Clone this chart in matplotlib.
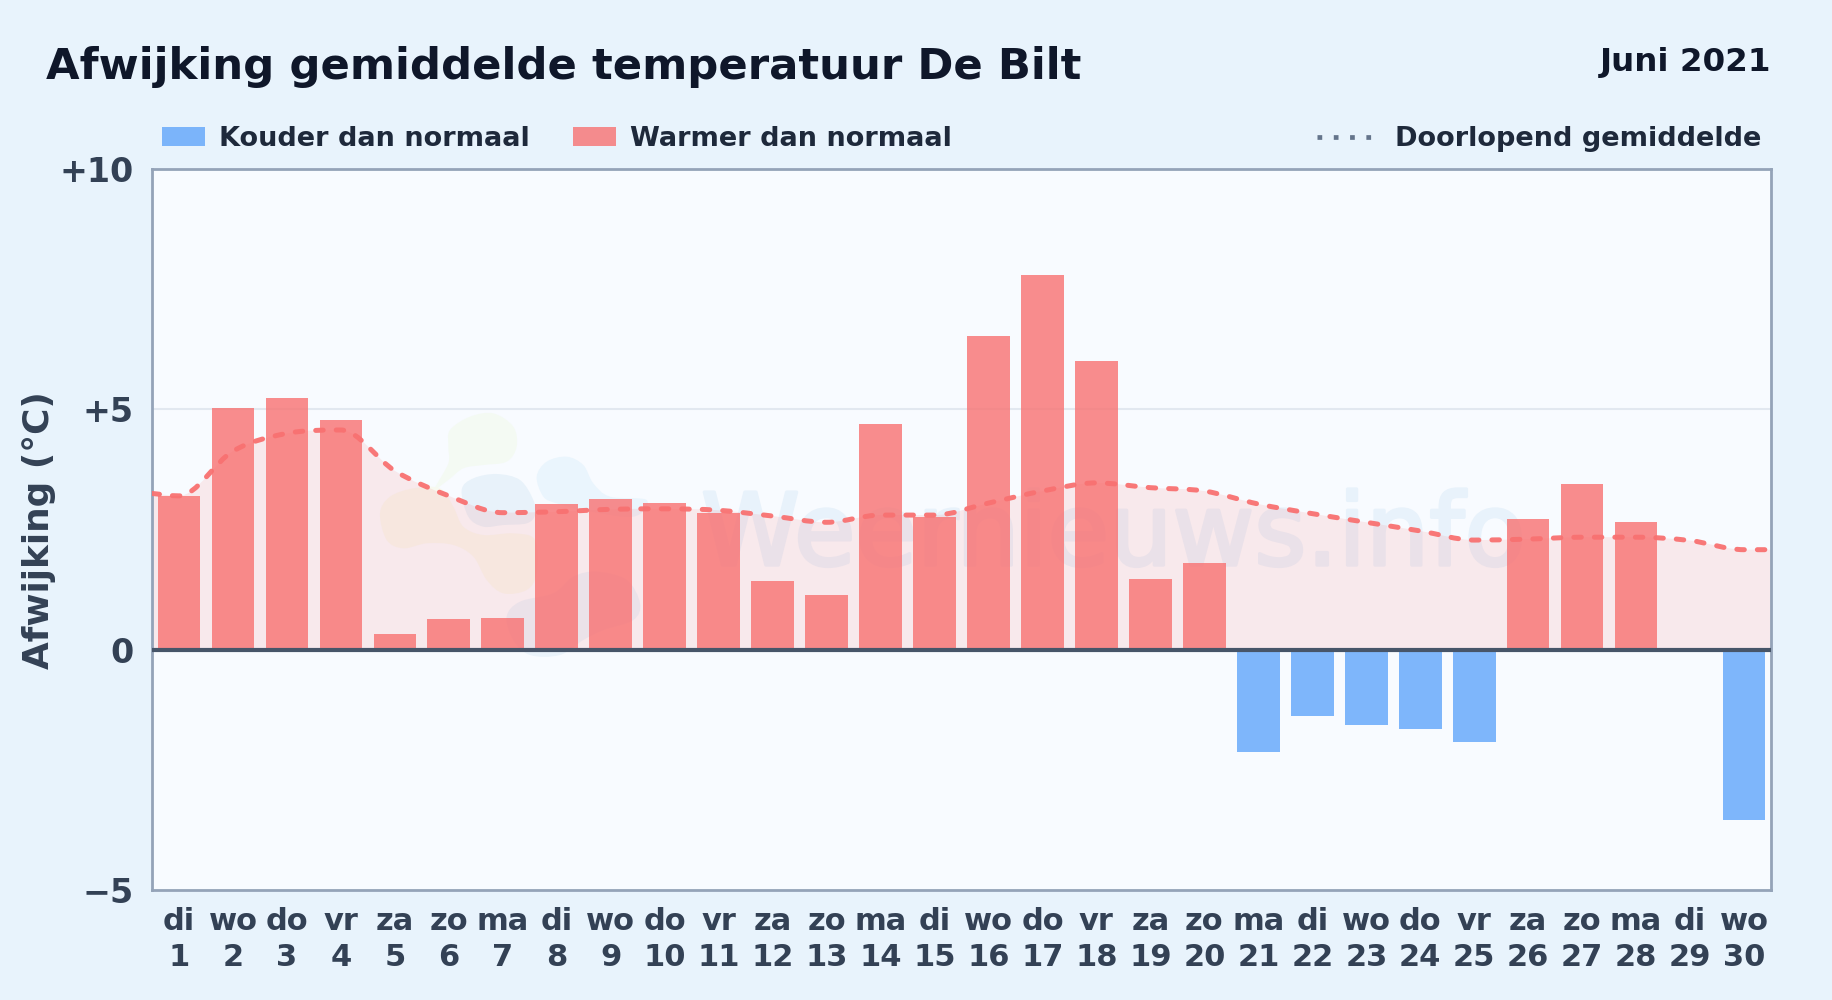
import numpy as np
import matplotlib
matplotlib.use("Agg")
import matplotlib.pyplot as plt
import matplotlib.patheffects as pe
from matplotlib.path import Path
from matplotlib.patches import PathPatch, Rectangle
from matplotlib.lines import Line2D

days = list(range(1, 31))
weekdays = ["di","wo","do","vr","za","zo","ma","di","wo","do","vr","za","zo","ma","di",
            "wo","do","vr","za","zo","ma","di","wo","do","vr","za","zo","ma","di","wo"]
deviation = [3.2,5.03,5.23,4.77,0.32,0.63,0.66,3.04,3.14,3.06,2.85,1.43,1.14,4.69,2.77,
             6.52,7.8,6.0,1.48,1.8,-2.12,-1.37,-1.56,-1.66,-1.93,2.72,3.45,2.65,0.0,-3.55]
running_mean = [3.2,4.13,4.5,4.57,3.72,3.2,2.85,2.87,2.92,2.93,2.9,2.78,2.65,2.8,2.8,
                3.05,3.3,3.47,3.37,3.3,3.03,2.83,2.65,2.47,2.28,2.3,2.34,2.34,2.27,2.08]
y_ticks = [-5, 0, 5, 10]
y_labels = ["\u22125", "0", "+5", "+10"]

plt.rcParams['font.family'] = 'DejaVu Sans'
plt.rcParams['font.weight'] = 'bold'
W, H = 1832, 1000
fig = plt.figure(figsize=(W/100, H/100), dpi=100, facecolor="#e8f3fc")
ax = fig.add_axes([152/W, 1-890/H, (1771-152)/W, (890-169)/H], facecolor="#f8fbff")
ax.set_xlim(0.5, 30.5)
ax.set_ylim(-5, 10)

def smooth_path(xs, ys, k=0.33):
    xs = np.asarray(xs, float); ys = np.asarray(ys, float)
    verts = [(xs[0], ys[0])]; codes = [Path.MOVETO]
    m = np.gradient(ys, xs)
    d = np.diff(ys)
    for i in range(1, len(xs)-1):
        if d[i-1]*d[i] <= 0:
            m[i] = 0.0
    for i in range(len(xs)-1):
        dx = xs[i+1]-xs[i]
        verts += [(xs[i]+dx*k, ys[i]+m[i]*dx*k),
                  (xs[i+1]-dx*k, ys[i+1]-m[i+1]*dx*k),
                  (xs[i+1], ys[i+1])]
        codes += [Path.CURVE4]*3
    return verts, codes

def blob(points, color):
    # faint logo shape behind the data, points in zoom-crop pixels of the watermark area
    p = np.array(points, float)
    px = 370 + p[:, 0]/3
    py = 400 + p[:, 1]/3
    n = len(p)
    verts = [(px[0], py[0])]; codes = [Path.MOVETO]
    for i in range(n):
        a, b, c, e = (i-1) % n, i, (i+1) % n, (i+2) % n
        verts += [(px[b]+(px[c]-px[a])/6, py[b]+(py[c]-py[a])/6),
                  (px[c]-(px[e]-px[b])/6, py[c]-(py[e]-py[b])/6),
                  (px[c], py[c])]
        codes += [Path.CURVE4]*3
    v = np.array(verts)
    v = np.column_stack([v[:, 0]/W, 1-v[:, 1]/H])
    ax.add_patch(PathPatch(Path(v, codes), transform=fig.transFigure, facecolor=color,
                           edgecolor="none", zorder=1.1))

blob([(240,90),(300,50),(370,40),(430,80),(440,140),(410,185),(340,195),(280,205),(235,240),(195,265),(235,190),(235,140)], "#f4faf3")
blob([(30,340),(60,290),(130,265),(210,265),(250,320),(280,380),(340,405),(430,400),(495,420),(500,520),(470,570),(400,580),(350,540),(310,470),(250,435),(170,430),(100,445),(50,420)], "#f7f9f0")
blob([(275,270),(310,235),(380,222),(450,240),(490,300),(495,345),(470,370),(400,375),(340,380),(295,350)], "#e8f2fa")
blob([(500,230),(530,185),(590,170),(640,195),(670,250),(720,290),(830,300),(790,350),(640,330),(560,310),(520,290)], "#eaf5fd")
blob([(410,650),(450,605),(550,580),(610,530),(680,515),(770,540),(810,610),(790,660),(700,690),(640,720),(570,765),(480,765),(430,720)], "#eaf3fb")
ax.text(701/W, 1-565/H, "Weernieuws.info", transform=fig.transFigure, fontsize=72, fontweight="normal",
        color="#e8f2fb", va="baseline", ha="left", zorder=1.2,
        path_effects=[pe.withStroke(linewidth=2.4, foreground="#e8f2fb")])

xs = [0.5] + days + [30.5]
ys = [running_mean[0]+0.05] + running_mean + [running_mean[-1]]
verts, codes = smooth_path(xs, ys)

ax.add_patch(PathPatch(Path(verts + [(30.5,0),(0.5,0),(0.5,0)], codes + [Path.LINETO,Path.LINETO,Path.CLOSEPOLY]),
                       facecolor="#f87171", alpha=0.13, edgecolor="none", zorder=2))
ax.axhline(5, color="#e2e8f0", lw=1.5, zorder=1.5)

colors = ["#f87171" if v >= 0 else "#60a5fa" for v in deviation]
ax.bar(days, deviation, width=0.79, color=colors, alpha=0.8, zorder=3, linewidth=0)
ax.add_patch(PathPatch(Path(verts, codes), facecolor="none", edgecolor="#f87171", lw=3.6,
                       linestyle=(0,(1.5,2.6)), capstyle="round", zorder=4, alpha=0.95))
ax.axhline(0, color="#475569", lw=3, zorder=5)

for s in ax.spines.values():
    s.set_color("#94a3b8"); s.set_linewidth(2)
ax.set_yticks(y_ticks, y_labels, fontsize=24, color="#334155", fontweight="bold")
ax.set_xticks(days, [f"{w}\n{d}" for w, d in zip(weekdays, days)], fontsize=22, color="#334155",
              fontweight="bold", linespacing=1.3)
ax.tick_params(axis="x", length=0, pad=12.5)
ax.tick_params(axis="y", length=0, pad=13)
fig.text(39/W, 1-530/H, "Afwijking (\u00b0C)", rotation=90, ha="center", va="center",
         fontsize=25.8, color="#334155", fontweight="bold")

fig.text(46/W, 1-67.5/H, "Afwijking gemiddelde temperatuur De Bilt", fontsize=31.2, color="#0f172a",
         fontweight="bold", va="center")
fig.text(1771/W, 1-62/H, "Juni 2021", fontsize=23.4, color="#0f172a", fontweight="bold", va="center", ha="right")

for x0, c, label, tx in [(162, "#60a5fa", "Kouder dan normaal", 219), (573, "#f87171", "Warmer dan normaal", 630)]:
    fig.add_artist(Rectangle((x0/W, 1-146/H), 43/W, 19/H, transform=fig.transFigure, facecolor=c, alpha=0.8, lw=0))
    fig.text(tx/W, 1-139/H, label, fontsize=19.5, color="#1e293b", fontweight="bold", va="center")
fig.add_artist(Line2D([1317/W, 1374/W], [1-137/H]*2, transform=fig.transFigure, color="#64748b", lw=3.4,
                      linestyle=(0,(1.0,2.45))))
fig.text(1761/W, 1-139/H, "Doorlopend gemiddelde", fontsize=19.5, color="#1e293b", fontweight="bold", va="center", ha="right")

fig.savefig("out.png", dpi=100, facecolor=fig.get_facecolor())
